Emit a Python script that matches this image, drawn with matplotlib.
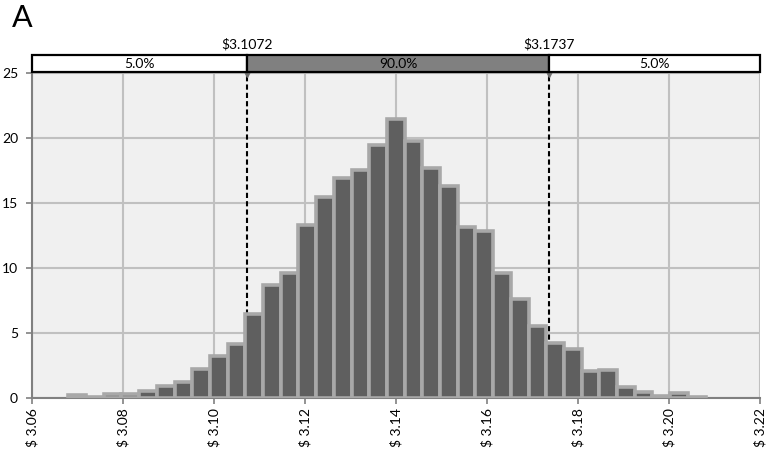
import numpy as np
import matplotlib.pyplot as plt
from matplotlib.patches import Rectangle

plt.rcParams['font.family'] = ['Lato', 'DejaVu Sans']

# histogram (bin start, bin width, bar heights)
bin_start = 3.0680
bin_width = 0.00389
heights = [0.2, 0.1, 0.3, 0.3, 0.56, 0.93, 1.26, 2.24, 3.25, 4.12,
           6.45, 8.68, 9.63, 13.32, 15.48, 16.92, 17.57, 19.45, 21.46, 19.76,
           17.70, 16.28, 13.16, 12.85, 9.63, 7.6,
           5.56, 4.22, 3.76, 2.09, 2.19, 0.87, 0.46, 0.15, 0.36, 0.05]

x_ticks = [3.06, 3.08, 3.10, 3.12, 3.14, 3.16, 3.18, 3.20, 3.22]
y_ticks = [0, 5, 10, 15, 20, 25]

p_low = 3.1072
p_high = 3.1737
band_labels = ['5.0%', '90.0%', '5.0%']

fig = plt.figure(figsize=(7.79, 4.55), dpi=100)
ax = fig.add_axes([32/779, 57/455, 728/779, 325/455])
ax.set_facecolor('#f0f0f0')

lefts = bin_start + bin_width * np.arange(len(heights))
ax.bar(lefts, heights, width=bin_width, align='edge',
       color='#5f5f5f', edgecolor='#a8a8a8', linewidth=2.6, zorder=3)

# percentile lines
for p in (p_low, p_high):
    ax.axvline(p, color='black', linestyle=(0, (2.5, 1.5)), linewidth=1.5, zorder=2)
    ax.plot([p], [25], marker='v', color='#707070', markersize=6,
            clip_on=False, zorder=5)

ax.set_xlim(3.06, 3.22)
ax.set_ylim(0, 25)
ax.set_xticks(x_ticks)
ax.set_xticklabels(['$ %.2f' % v for v in x_ticks], rotation=90)
ax.set_yticks(y_ticks)
ax.grid(True, color='#c0c0c0', linewidth=1.5, zorder=0)
ax.set_axisbelow(True)
for s in ('top', 'right'):
    ax.spines[s].set_visible(False)
for s in ('left', 'bottom'):
    ax.spines[s].set_color('#808080')
    ax.spines[s].set_linewidth(1.5)
ax.tick_params(colors='#808080', labelcolor='black', labelsize=10,
               length=4, width=1.2)
ax.tick_params(axis='y', pad=6)

# percentile band on top
band = fig.add_axes([32/779, 383/455, 728/779, 17/455])
band.set_xlim(3.06, 3.22)
band.set_ylim(0, 1)
band.axis('off')
edges = [3.06, p_low, p_high, 3.22]
fills = ['white', '#808080', 'white']
for i in range(3):
    band.add_patch(Rectangle((edges[i], 0), edges[i + 1] - edges[i], 1,
                             facecolor=fills[i], edgecolor='black',
                             linewidth=1.6, clip_on=False))
    band.text((edges[i] + edges[i + 1]) / 2, 0.45, band_labels[i],
              ha='center', va='center', fontsize=10)
for p in (p_low, p_high):
    band.text(p, 1.25, '$%.4f' % p, ha='center', va='bottom', fontsize=10)

fig.text(12/779, 1 - 18/455, 'A', fontsize=22, va='center', ha='left')

fig.savefig('out.png', dpi=100)
